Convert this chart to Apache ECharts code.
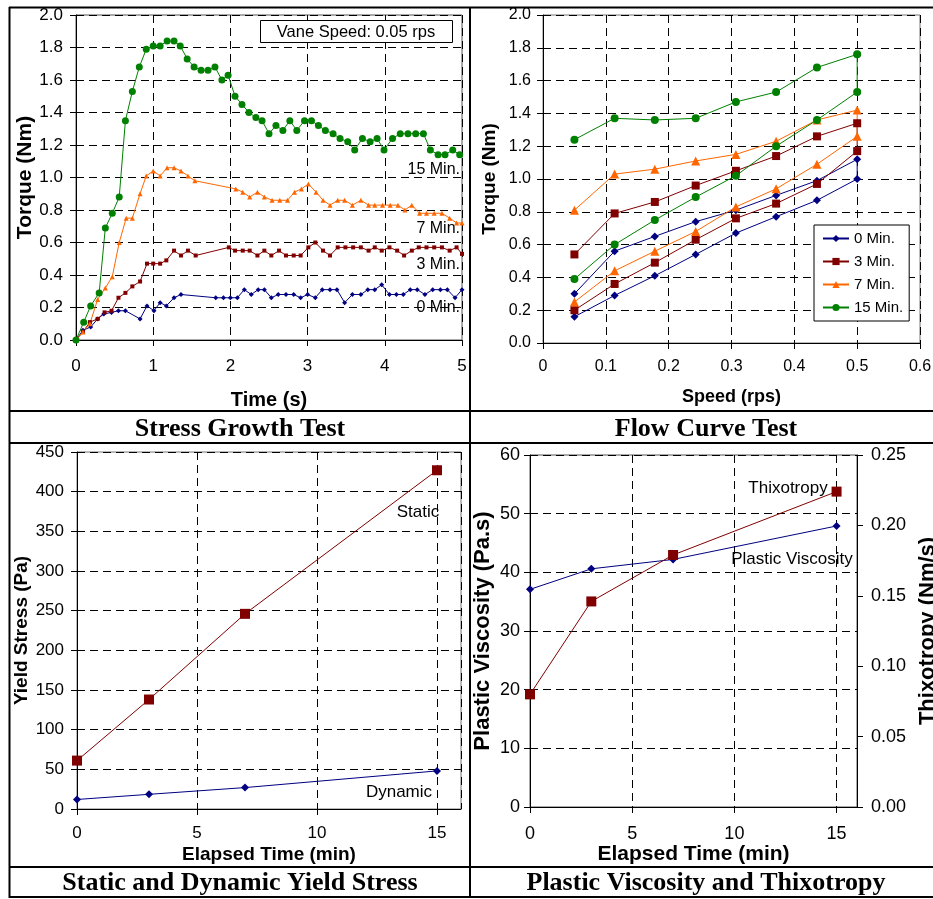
<!DOCTYPE html>
<html><head><meta charset="utf-8">
<script src="https://cdn.jsdelivr.net/npm/echarts@6/dist/echarts.min.js"></script>
<style>html,body{margin:0;padding:0;background:#fff}#c{width:933px;height:899px}</style>
</head><body><div id="c"></div>
<script>
// ---------- Stress Growth Test (vane speed 0.05 rps) ----------
const sgTime0 = [0,0.09,0.19,0.28,0.36,0.46,0.55,0.64,0.83,0.92,1.01,1.09,1.17,1.27,1.36,1.81,1.91,2.0,2.09,2.18,2.27,2.36,2.44,2.53,2.62,2.72,2.82,2.91,3.0,3.1,3.19,3.29,3.38,3.48,3.58,3.69,3.78,3.87,3.96,4.06,4.15,4.24,4.33,4.42,4.52,4.62,4.72,4.81,4.91,5.0];
const sgTorque0 = [0,0.06,0.08,0.13,0.16,0.17,0.18,0.18,0.13,0.21,0.18,0.23,0.21,0.26,0.28,0.26,0.26,0.26,0.26,0.31,0.28,0.31,0.31,0.26,0.28,0.28,0.28,0.26,0.28,0.26,0.31,0.31,0.31,0.23,0.28,0.28,0.31,0.31,0.34,0.28,0.28,0.28,0.31,0.31,0.28,0.31,0.31,0.31,0.26,0.31];
const sgTime3 = [0,0.09,0.18,0.28,0.37,0.46,0.55,0.64,0.73,0.83,0.92,1.0,1.09,1.17,1.27,1.36,1.45,1.55,1.98,2.06,2.16,2.25,2.35,2.44,2.53,2.63,2.72,2.82,2.91,3.01,3.1,3.2,3.29,3.39,3.49,3.59,3.69,3.79,3.87,3.96,4.06,4.16,4.25,4.35,4.44,4.54,4.64,4.74,4.84,4.93,5.0];
const sgTorque3 = [0,0.05,0.11,0.13,0.17,0.18,0.26,0.29,0.33,0.36,0.47,0.47,0.47,0.49,0.55,0.52,0.55,0.52,0.57,0.55,0.55,0.55,0.52,0.55,0.52,0.55,0.52,0.52,0.52,0.57,0.60,0.55,0.52,0.57,0.57,0.57,0.57,0.55,0.57,0.55,0.57,0.55,0.52,0.55,0.57,0.57,0.57,0.57,0.55,0.57,0.53];
const sgTime7 = [0,0.09,0.18,0.28,0.38,0.47,0.56,0.65,0.73,0.83,0.91,1.0,1.09,1.18,1.27,1.36,1.45,1.54,2.07,2.16,2.25,2.35,2.44,2.54,2.64,2.74,2.83,2.92,3.01,3.11,3.2,3.29,3.39,3.48,3.58,3.69,3.79,3.87,3.97,4.07,4.17,4.26,4.35,4.45,4.54,4.64,4.74,4.84,4.93,5.0];
const sgTorque7 = [0,0.05,0.10,0.25,0.32,0.39,0.60,0.75,0.75,0.90,1.01,1.04,1.01,1.06,1.06,1.04,1.01,0.98,0.93,0.91,0.88,0.91,0.88,0.86,0.86,0.86,0.91,0.93,0.96,0.91,0.86,0.83,0.86,0.86,0.83,0.86,0.83,0.83,0.83,0.83,0.83,0.80,0.83,0.78,0.78,0.78,0.78,0.75,0.72,0.72];
const sgTime15 = [0,0.10,0.19,0.30,0.38,0.47,0.56,0.64,0.73,0.82,0.91,1.0,1.09,1.18,1.27,1.35,1.44,1.53,1.62,1.71,1.8,1.89,1.97,2.06,2.15,2.24,2.33,2.41,2.5,2.59,2.68,2.77,2.86,2.96,3.05,3.14,3.23,3.33,3.42,3.52,3.61,3.71,3.81,3.9,3.99,4.1,4.2,4.3,4.4,4.5,4.59,4.69,4.78,4.88,4.97];
const sgTorque15 = [0,0.11,0.21,0.29,0.69,0.78,0.88,1.35,1.53,1.68,1.79,1.81,1.81,1.84,1.84,1.81,1.73,1.68,1.66,1.66,1.68,1.60,1.63,1.50,1.45,1.40,1.37,1.35,1.27,1.32,1.29,1.35,1.29,1.35,1.35,1.32,1.29,1.27,1.24,1.22,1.17,1.24,1.22,1.24,1.17,1.24,1.27,1.27,1.27,1.27,1.17,1.14,1.14,1.17,1.14];
const sgXTicks = [0, 5, 1];      // min, max, interval
const sgYTicks = [0, 2.0, 0.2];

// ---------- Flow Curve Test ----------
const flowSpeed = [0.05,0.114,0.178,0.243,0.307,0.371,0.436,0.5];
const flowLower0 = [0.16,0.29,0.41,0.54,0.67,0.77,0.87,1.00];
const flowUpper0 = [0.30,0.56,0.65,0.74,0.81,0.90,0.99,1.12];
const flowLower3 = [0.20,0.36,0.49,0.63,0.76,0.85,0.97,1.17];
const flowUpper3 = [0.54,0.79,0.86,0.96,1.05,1.14,1.26,1.34];
const flowLower7 = [0.25,0.44,0.56,0.68,0.83,0.94,1.09,1.26];
const flowUpper7 = [0.81,1.03,1.06,1.11,1.15,1.23,1.36,1.42];
const flowLower15 = [0.39,0.60,0.75,0.89,1.02,1.20,1.36,1.53];
const flowUpper15 = [1.24,1.37,1.36,1.37,1.47,1.53,1.68,1.76];
const flowNames = ['0 Min.','3 Min.','7 Min.','15 Min.'];

// ---------- Yield stress / viscosity / thixotropy ----------
const elapsedTime = [0,3,7,15];
const staticYield = [61,138,246,427];
const dynamicYield = [12,18.5,27,48];
const plasticViscosity = [37.1,40.6,42.2,47.9];
const thixotropy = [0.080,0.146,0.179,0.224];

const SANS = 'Liberation Sans, Arial, Helvetica, sans-serif';
const SERIF = 'Liberation Serif, Times New Roman, serif';
const C0 = '#000080', C3 = '#800000', C7 = '#FF6600', C15 = '#008000';

function pairs(xs, ys){ return xs.map((x,i)=>[x, ys[i]]); }
function loop(lower, upper){
  const a = flowSpeed.map((s,i)=>[s, lower[i]]);
  const b = flowSpeed.slice().reverse().map((s,i)=>[s, upper[upper.length-1-i]]);
  return a.concat(b);
}
const dash = {show:true, lineStyle:{color:'#000', width:1, type:[8,5]}};
const axLine = {lineStyle:{color:'#000', width:1}};
const tick = {show:true, length:6, lineStyle:{color:'#000'}};
function lab(size, margin, fmt){ const o={color:'#000', fontSize:size, fontFamily:SANS, margin:margin}; if(fmt) o.formatter=fmt; return o; }
function nameStyle(size){ return {color:'#000', fontSize:size, fontWeight:'bold', fontFamily:SANS}; }
function line(name, xi, yi, data, color, symbol, size){
  return {type:'line', name:name, xAxisIndex:xi, yAxisIndex:yi, data:data, symbol:symbol, symbolSize:size,
    lineStyle:{color:color, width:1}, itemStyle:{color:color}, animation:false, z:3};
}

const option = {
  animation:false,
  backgroundColor:'#fff',
  grid:[
    {left:76, top:15, width:386, height:325, show:true, borderColor:'#555', borderWidth:1, containLabel:false, outerBoundsMode:'none'},
    {left:543, top:15, width:377, height:328, show:true, borderColor:'#777', borderWidth:1, containLabel:false, outerBoundsMode:'none'},
    {left:77, top:452, width:384, height:357, show:true, borderColor:'#777', borderWidth:1, containLabel:false, outerBoundsMode:'none'},
    {left:530, top:455, width:327, height:352, show:true, borderColor:'#555', borderWidth:1, containLabel:false, outerBoundsMode:'none'}
  ],
  xAxis:[
    {type:'value', gridIndex:0, min:sgXTicks[0], max:sgXTicks[1], interval:sgXTicks[2], axisLine:axLine, axisTick:tick, splitLine:dash,
     axisLabel:lab(17,18), name:'Time (s)', nameLocation:'middle', nameGap:50, nameTextStyle:nameStyle(20)},
    {type:'value', gridIndex:1, min:0, max:0.6, interval:0.1, axisLine:axLine, axisTick:tick, splitLine:dash,
     axisLabel:lab(16,16), name:'Speed (rps)', nameLocation:'middle', nameGap:45, nameTextStyle:nameStyle(18)},
    {type:'value', gridIndex:2, min:0, max:16, interval:5, axisLine:axLine, axisTick:tick, splitLine:dash,
     axisLabel:Object.assign(lab(17,16),{showMaxLabel:false}), name:'Elapsed Time (min)', nameLocation:'middle', nameGap:36, nameTextStyle:nameStyle(19)},
    {type:'value', gridIndex:3, min:0, max:16, interval:5, axisLine:axLine, axisTick:tick, splitLine:dash,
     axisLabel:Object.assign(lab(18,18),{showMaxLabel:false}), name:'Elapsed Time (min)', nameLocation:'middle', nameGap:37, nameTextStyle:nameStyle(21)}
  ],
  yAxis:[
    {type:'value', gridIndex:0, min:sgYTicks[0], max:sgYTicks[1], interval:sgYTicks[2], axisLine:Object.assign({show:true},axLine), axisTick:tick, splitLine:dash,
     axisLabel:lab(17,13,v=>v.toFixed(1)), name:'Torque (Nm)', nameLocation:'middle', nameGap:40, nameTextStyle:nameStyle(21)},
    {type:'value', gridIndex:1, min:0, max:2.0, interval:0.2, axisLine:Object.assign({show:true},axLine), axisTick:tick, splitLine:dash,
     axisLabel:lab(16,12,v=>v.toFixed(1)), name:'Torque (Nm)', nameLocation:'middle', nameGap:44, nameTextStyle:nameStyle(19)},
    {type:'value', gridIndex:2, min:0, max:450, interval:50, axisLine:Object.assign({show:true},axLine), axisTick:tick, splitLine:dash,
     axisLabel:lab(17,13), name:'Yield Stress (Pa)', nameLocation:'middle', nameGap:44, nameTextStyle:nameStyle(19)},
    {type:'value', gridIndex:3, min:0, max:60, interval:10, axisLine:Object.assign({show:true},axLine), axisTick:tick, splitLine:dash,
     axisLabel:lab(18,10), name:'Plastic Viscosity (Pa.s)', nameLocation:'middle', nameGap:36, nameTextStyle:nameStyle(22)},
    {type:'value', gridIndex:3, position:'right', min:0, max:0.25, interval:0.05, axisLine:Object.assign({show:true},axLine), axisTick:tick, splitLine:{show:false},
     axisLabel:lab(18,14,v=>v.toFixed(2)), name:'Thixotropy (Nm/s)', nameLocation:'middle', nameGap:60, nameTextStyle:nameStyle(22)}
  ],
  legend:{
    data:flowNames, orient:'vertical', left:814, top:225, selectedMode:false,
    backgroundColor:'#fff', borderColor:'#000', borderWidth:1, borderRadius:0,
    padding:[6,6,6,8], itemGap:8, itemWidth:26, itemHeight:9,
    textStyle:{color:'#000', fontSize:15, fontFamily:SANS}, z:20
  },
  series:[
    line('SG 0 Min.',0,0,pairs(sgTime0,sgTorque0),C0,'diamond',5),
    line('SG 3 Min.',0,0,pairs(sgTime3,sgTorque3),C3,'rect',4),
    line('SG 7 Min.',0,0,pairs(sgTime7,sgTorque7),C7,'triangle',5),
    line('SG 15 Min.',0,0,pairs(sgTime15,sgTorque15),C15,'circle',7),
    line(flowNames[0],1,1,loop(flowLower0,flowUpper0),C0,'diamond',8),
    line(flowNames[1],1,1,loop(flowLower3,flowUpper3),C3,'rect',8),
    line(flowNames[2],1,1,loop(flowLower7,flowUpper7),C7,'triangle',9),
    line(flowNames[3],1,1,loop(flowLower15,flowUpper15),C15,'circle',8),
    line('Dynamic',2,2,pairs(elapsedTime,dynamicYield),C0,'diamond',8),
    line('Static',2,2,pairs(elapsedTime,staticYield),C3,'rect',10),
    line('Plastic Viscosity',3,3,pairs(elapsedTime,plasticViscosity),C0,'diamond',8),
    line('Thixotropy',3,4,pairs(elapsedTime,thixotropy),C3,'rect',10)
  ],
  graphic:[
    // panel borders
    {type:'line', z:100, shape:{x1:9,y1:7.5,x2:933,y2:7.5}, style:{stroke:'#000',lineWidth:2}},
    {type:'line', z:100, shape:{x1:9.5,y1:7,x2:9.5,y2:898}, style:{stroke:'#000',lineWidth:2}},
    {type:'line', z:100, shape:{x1:470,y1:7,x2:470,y2:898}, style:{stroke:'#000',lineWidth:2}},
    {type:'line', z:100, shape:{x1:9,y1:411,x2:933,y2:411}, style:{stroke:'#000',lineWidth:2}},
    {type:'line', z:100, shape:{x1:9,y1:443,x2:933,y2:443}, style:{stroke:'#000',lineWidth:2}},
    {type:'line', z:100, shape:{x1:9,y1:867,x2:933,y2:867}, style:{stroke:'#000',lineWidth:2}},
    {type:'line', z:100, shape:{x1:9,y1:897,x2:933,y2:897}, style:{stroke:'#000',lineWidth:2}},
    // cell titles
    {type:'text', z:100, x:240, y:429, style:{text:'Stress Growth Test', fontSize:26, fontWeight:'bold', fontFamily:SERIF, fill:'#000', align:'center', verticalAlign:'middle'}},
    {type:'text', z:100, x:706, y:429, style:{text:'Flow Curve Test', fontSize:26, fontWeight:'bold', fontFamily:SERIF, fill:'#000', align:'center', verticalAlign:'middle'}},
    {type:'text', z:100, x:240, y:883, style:{text:'Static and Dynamic Yield Stress', fontSize:26, fontWeight:'bold', fontFamily:SERIF, fill:'#000', align:'center', verticalAlign:'middle'}},
    {type:'text', z:100, x:706, y:883, style:{text:'Plastic Viscosity and Thixotropy', fontSize:26, fontWeight:'bold', fontFamily:SERIF, fill:'#000', align:'center', verticalAlign:'middle'}},
    // vane speed box
    {type:'rect', z:100, shape:{x:260.5,y:20.5,width:192,height:22}, style:{fill:'#fff', stroke:'#000', lineWidth:1}},
    {type:'text', z:101, x:356, y:32, style:{text:'Vane Speed: 0.05 rps', fontSize:16.5, fontFamily:SANS, fill:'#000', align:'center', verticalAlign:'middle'}},
    // series annotations
    {type:'text', z:101, x:460, y:170, style:{text:'15 Min.', fontSize:16, fontFamily:SANS, fill:'#000', align:'right', verticalAlign:'middle'}},
    {type:'text', z:101, x:460, y:229, style:{text:'7 Min.', fontSize:16, fontFamily:SANS, fill:'#000', align:'right', verticalAlign:'middle'}},
    {type:'text', z:101, x:460, y:265, style:{text:'3 Min.', fontSize:16, fontFamily:SANS, fill:'#000', align:'right', verticalAlign:'middle'}},
    {type:'text', z:101, x:460, y:308, style:{text:'0 Min.', fontSize:16, fontFamily:SANS, fill:'#000', align:'right', verticalAlign:'middle'}},
    {type:'text', z:101, x:418, y:512, style:{text:'Static', fontSize:17, fontFamily:SANS, fill:'#000', align:'center', verticalAlign:'middle'}},
    {type:'text', z:101, x:399, y:792, style:{text:'Dynamic', fontSize:17, fontFamily:SANS, fill:'#000', align:'center', verticalAlign:'middle'}},
    {type:'text', z:101, x:788, y:488, style:{text:'Thixotropy', fontSize:17, fontFamily:SANS, fill:'#000', align:'center', verticalAlign:'middle'}},
    {type:'text', z:101, x:792, y:559, style:{text:'Plastic Viscosity', fontSize:17, fontFamily:SANS, fill:'#000', align:'center', verticalAlign:'middle'}}
  ]
};
const chart = echarts.init(document.getElementById('c'), null, {renderer:'canvas'});
chart.setOption(option);
</script>
</body></html>
